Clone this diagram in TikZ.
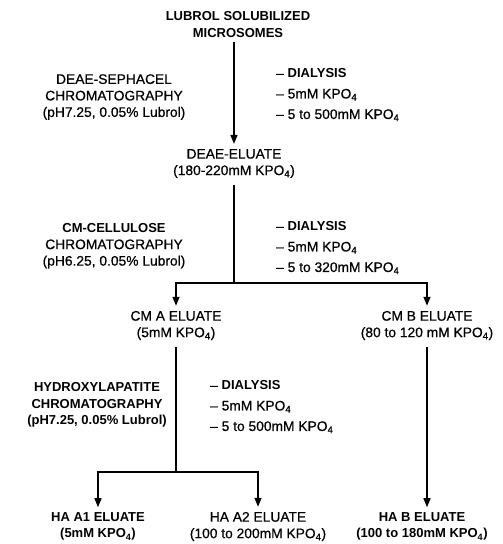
\documentclass[tikz,border=0pt]{standalone}
\usepackage{fontspec}
\setmainfont{Liberation Sans}[UprightFeatures={FakeBold=0.6}]
\usetikzlibrary{arrows.meta}
\newcommand\kpo{KPO\textsubscript{4}}
\begin{document}
\begin{tikzpicture}[x=1pt,y=-1pt,
  every node/.style={font=\fontsize{13.8}{16.5}\selectfont, inner sep=1pt},
  blk/.style={align=center},
  bblk/.style={align=center, font=\fontsize{13}{16.5}\selectfont\bfseries},
  lst/.style={align=left, anchor=west},
  conn/.style={line width=1.4pt},
  arr/.style={conn,-{Triangle[length=9pt,width=7pt]}}]
\useasboundingbox (0,0) rectangle (503,544);
% nodes
\node[bblk] (lubrol) at (238,24.5) {LUBROL SOLUBILIZED\\MICROSOMES};
\node[blk] (deaelab) at (114,97) {DEAE-SEPHACEL\\CHROMATOGRAPHY\\(pH7.25, 0.05\% Lubrol)};
\node[lst] (deaelist) at (275,95) {-- {\fontsize{13}{16.5}\selectfont\bfseries DIALYSIS}\\[4pt]-- 5mM \kpo\\[4pt]-- 5 to 500mM \kpo};
\node[blk] (deae) at (234,163.5) {DEAE-ELUATE\\(180-220mM \kpo)};
\node[blk] (cmlab) at (114,246) {{\fontsize{13}{16.5}\selectfont\bfseries CM-CELLULOSE}\\CHROMATOGRAPHY\\(pH6.25, 0.05\% Lubrol)};
\node[lst] (cmlist) at (275,248) {-- {\fontsize{13}{16.5}\selectfont\bfseries DIALYSIS}\\[4pt]-- 5mM \kpo\\[4pt]-- 5 to 320mM \kpo};
\node[blk] (cma) at (176,325.5) {CM A ELUATE\\(5mM \kpo)};
\node[blk] (cmb) at (427,325.5) {CM B ELUATE\\(80 to 120 mM \kpo)};
\node[bblk] (halab) at (97,405) {HYDROXYLAPATITE\\CHROMATOGRAPHY\\(pH7.25, 0.05\% Lubrol)};
\node[lst] (halist) at (209,407) {-- {\fontsize{13}{16.5}\selectfont\bfseries DIALYSIS}\\[4pt]-- 5mM \kpo\\[4pt]-- 5 to 500mM \kpo};
\node[bblk] (ha1) at (98,526.5) {HA A1 ELUATE\\(5mM \kpo)};
\node[blk] (ha2) at (258,526.5) {HA A2 ELUATE\\(100 to 200mM \kpo)};
\node[bblk] (hab) at (422,526.5) {HA B ELUATE\\(100 to 180mM \kpo)};
% junctions
\coordinate (j1) at (234,283);
\coordinate (j2) at (176,472);
% connectors
\draw[arr, shorten <=3pt, shorten >=4pt] (lubrol.south -| deae.north) -- (deae.north);
\draw[conn, shorten <=6pt] (deae.south) -- (j1);
\draw[arr, shorten >=4pt] (j1) -| (cma.north);
\draw[arr, shorten >=4pt] (j1) -| (cmb.north);
\draw[conn, shorten <=6pt] (cma.south) -- (j2);
\draw[arr, shorten >=4pt] (j2) -| (ha1.north);
\draw[arr, shorten >=4pt] (j2) -| (ha2.north);
\draw[arr, shorten <=6pt, shorten >=4pt] (cmb.south) -- (cmb.south |- hab.north);
\end{tikzpicture}
\end{document}
